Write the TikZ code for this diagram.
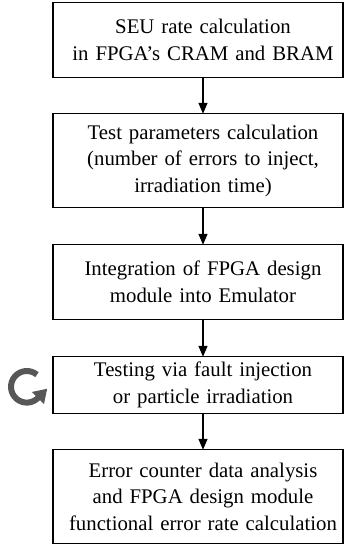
\documentclass[tikz,border=0pt]{standalone}
\usepackage{fontspec}
\setmainfont{Liberation Serif}
\usetikzlibrary{arrows.meta,calc}
\definecolor{icongray}{HTML}{575757}
\begin{document}
\begin{tikzpicture}[x=1pt,y=-1pt,
  stepbox/.style={inner sep=0pt, align=center, text width=300pt,
    font=\fontsize{20.8}{26.5}\selectfont},
  flow/.style={line width=1.2pt, -{Triangle[length=11pt,width=9pt]}},
  frame/.style={line width=1.2pt}]
\useasboundingbox (0,0) rectangle (344,546);
\coordinate (L) at (53,0);
\coordinate (R) at (343,0);

\node[stepbox, minimum height=74pt] (s1) at (203,40)
  {SEU rate calculation\\in FPGA’s CRAM and BRAM};
\node[stepbox, minimum height=93pt] (s2) at (203,160.5)
  {Test parameters calculation\\(number of errors to inject,\\irradiation time)};
\node[stepbox, minimum height=74pt] (s3) at (203,282)
  {Integration of FPGA design\\module into Emulator};
\node[stepbox, minimum height=56pt] (s4) at (203,385)
  {Testing via fault injection\\or particle irradiation};
\node[stepbox, minimum height=93pt] (s5) at (203,496.5)
  {Error counter data analysis\\and FPGA design module\\functional error rate calculation};

% frames of the steps
\foreach \n in {s1,s2,s3,s4,s5}
  \draw[frame] (\n.north -| L) rectangle (\n.south -| R);

% connectors
\draw[flow] (s1) -- (s2);
\draw[flow] (s2) -- (s3);
\draw[flow] (s3) -- (s4);
\draw[flow] (s4) -- (s5);

% repeat icon beside the testing step (local y axis points up)
\begin{scope}[shift={(26.8,386.8)}, y=1pt]
  \draw[icongray, line width=6pt] (50:15.8) arc[start angle=50, end angle=318, radius=15.8];
  \fill[icongray] (315:7.3) -- (315:24.3) -- ($(315:15.8)+(45:13)$) -- cycle;
\end{scope}
\end{tikzpicture}
\end{document}
